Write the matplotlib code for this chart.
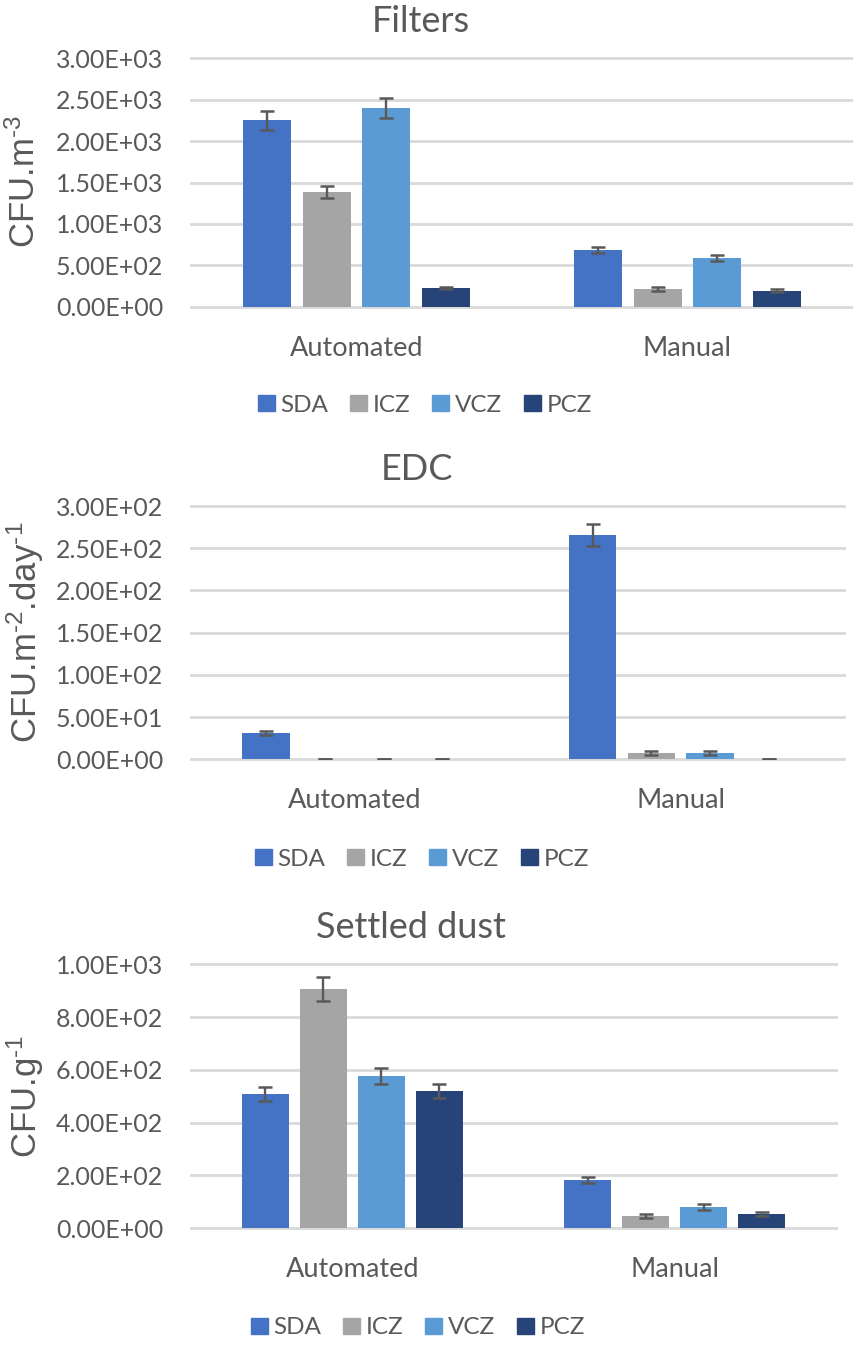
import numpy as np
import matplotlib
matplotlib.use('Agg')
import matplotlib.pyplot as plt
from matplotlib.ticker import FuncFormatter, MultipleLocator
from matplotlib.patches import Patch

# === Data ===
categories = ['Automated', 'Manual']
series = ['SDA', 'ICZ', 'VCZ', 'PCZ']
colors = ['#4472C4', '#A5A5A5', '#5B9BD5', '#264478']

# Filters (CFU.m-3)
filters_vals = {'SDA': [2250, 685], 'ICZ': [1385, 214], 'VCZ': [2400, 588], 'PCZ': [226, 190]}
filters_err = {'SDA': [115, 40], 'ICZ': [76, 24], 'VCZ': [121, 38], 'PCZ': [16, 18]}

# EDC (CFU.m-2.day-1)
edc_vals = {'SDA': [30.8, 265.7], 'ICZ': [0.3, 7.5], 'VCZ': [0.3, 7.5], 'PCZ': [0.3, 0.3]}
edc_err = {'SDA': [2.5, 13.4], 'ICZ': [0.3, 2.0], 'VCZ': [0.3, 2.0], 'PCZ': [0.3, 0.3]}

# Settled dust (CFU.g-1)
dust_vals = {'SDA': [508, 182], 'ICZ': [906, 45.5], 'VCZ': [576, 80], 'PCZ': [520, 53]}
dust_err = {'SDA': [27, 11], 'ICZ': [47, 6], 'VCZ': [30, 10], 'PCZ': [27, 6]}

# === Style ===
plt.rcParams['font.family'] = ['Lato', 'DejaVu Sans']
plt.rcParams['mathtext.default'] = 'regular'
TXT = '#595959'
GRID = '#D9D9D9'
HY = '\u2010'  # short hyphen for the superscripts

W, H = 854, 1346
fig = plt.figure(figsize=(W / 100, H / 100), dpi=100)


def px_axes(left, top, right, bottom):
    # pixel box -> figure fraction
    return [left / W, 1 - bottom / H, (right - left) / W, (bottom - top) / H]


def draw_panel(box, vals, errs, ymax, ystep, title, title_xy, ylabel, label_y, legend_xy):
    ax = fig.add_axes(px_axes(*box))
    x = np.arange(len(categories))
    step, width = 0.18, 0.145
    for i, s in enumerate(series):
        ax.bar(x + (i - 1.5) * step, vals[s], width, color=colors[i],
               yerr=errs[s], ecolor=TXT, capsize=5,
               error_kw={'elinewidth': 1.7, 'capthick': 1.8}, zorder=3)
    ax.set_xlim(-0.5, 1.5)
    ax.set_ylim(0, ymax)
    ax.yaxis.set_major_locator(MultipleLocator(ystep))
    ax.yaxis.set_major_formatter(FuncFormatter(lambda v, p: f'{v:.2E}'))
    ax.set_xticks(x)
    ax.set_xticklabels(categories)
    ax.tick_params(axis='y', length=0, pad=20, labelsize=18, labelcolor=TXT)
    ax.tick_params(axis='x', length=0, pad=21, labelsize=19.5, labelcolor=TXT)
    ax.grid(axis='y', color=GRID, linewidth=2)
    for gl in ax.get_ygridlines():
        gl.set_clip_on(False)
    ax.set_axisbelow(True)
    for sp in ax.spines.values():
        sp.set_visible(False)

    fig.text(title_xy[0] / W, 1 - title_xy[1] / H, title, ha='center', va='center',
             fontsize=26, color=TXT)
    fig.text(25 / W, 1 - label_y / H, ylabel, ha='center', va='center', rotation=90,
             fontsize=25, color=TXT, family=['Liberation Sans', 'DejaVu Sans'])
    handles = [Patch(color=c, label=s) for c, s in zip(colors, series)]
    fig.legend(handles=handles, loc='center', ncol=4, frameon=False,
               bbox_to_anchor=(legend_xy[0] / W, 1 - legend_xy[1] / H),
               fontsize=17.5, labelcolor=TXT, handlelength=0.68, handleheight=0.68,
               handletextpad=0.25, columnspacing=0.9)
    return ax


draw_panel((191, 58.3, 853, 306.7), filters_vals, filters_err, 3000, 500,
           'Filters', (421, 22), 'CFU.m$^{' + HY + '3}$', 182, (425, 405))
draw_panel((191, 506, 844, 759.3), edc_vals, edc_err, 300, 50,
           'EDC', (417, 470), 'CFU.m$^{' + HY + '2}$.day$^{' + HY + '1}$', 632, (422, 859))
draw_panel((191, 964.3, 836, 1228), dust_vals, dust_err, 1000, 200,
           'Settled dust', (411, 927), 'CFU.g$^{' + HY + '1}$', 1096, (418, 1328))

fig.savefig('out.png', dpi=100)
